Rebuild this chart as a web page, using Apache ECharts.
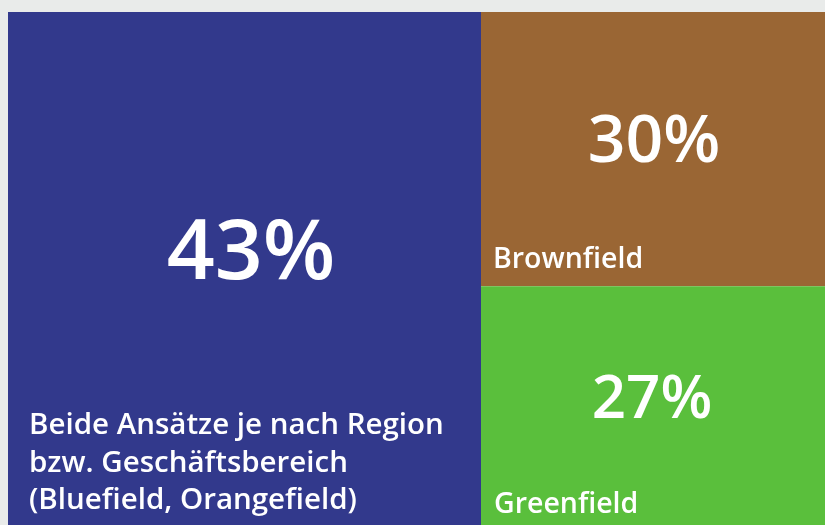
<!DOCTYPE html>
<html>
<head>
<meta charset="utf-8">
<script src="https://cdn.jsdelivr.net/npm/echarts@6/dist/echarts.min.js"></script>
<style>
  html, body { margin: 0; padding: 0; background: #e9ebea; }
  #chart { width: 825px; height: 525px; }
</style>
</head>
<body>
<div id="chart"></div>
<script>
// Treemap Ansätze
var names = [
  'Beide Ansätze je nach Region\nbzw. Geschäftsbereich\n(Bluefield, Orangefield)',
  'Brownfield',
  'Greenfield'
];
var shares = [43, 30, 27];

var colors = ['#32398c', '#9a6634', '#5abf3c'];

// label placement per tile (padding top/right/bottom/left, font sizes, line heights)
var labelLook = [
  { padding: [91, 8, 0, 21], pct: 84, pctLine: 304, nm: 29.5, nmLine: 37.5 },
  { padding: [30, 293, 0, 12], pct: 66, pctLine: 203, nm: 28.5, nmLine: 30 },
  { padding: [25, 298, 0, 13], pct: 60, pctLine: 179, nm: 28.5, nmLine: 30 }
];

var font = '"Open Sans", "Noto Sans", sans-serif';

var items = [];
for (var i = 0; i < names.length; i++) {
  var l = labelLook[i];
  items.push({
    name: names[i],
    value: shares[i],
    itemStyle: { color: colors[i] },
    label: {
      position: [0, 0],
      padding: l.padding,
      rich: {
        pct: { fontFamily: font, fontSize: l.pct, fontWeight: 600, color: '#fff', lineHeight: l.pctLine, align: 'center' },
        nm: { fontFamily: font, fontSize: l.nm, fontWeight: 600, color: '#fff', lineHeight: l.nmLine, align: 'left' }
      }
    }
  });
}

var chart = echarts.init(document.getElementById('chart'));

var option = {
  backgroundColor: '#e9ebea',
  animation: false,
  series: [{
    type: 'treemap',
    left: 8,
    top: 12,
    width: 1100,
    height: 521,
    roam: false,
    nodeClick: false,
    breadcrumb: { show: false },
    itemStyle: { borderWidth: 0, gapWidth: 0 },
    label: {
      show: true,
      position: [0, 0],
      overflow: 'none',
      formatter: function (p) {
        var lines = p.name.split('\n').map(function (s) { return '{nm|' + s + '}'; });
        return '{pct|' + p.value + '%}\n' + lines.join('\n');
      }
    },
    data: items
  }]
};

chart.setOption(option);
</script>
</body>
</html>
